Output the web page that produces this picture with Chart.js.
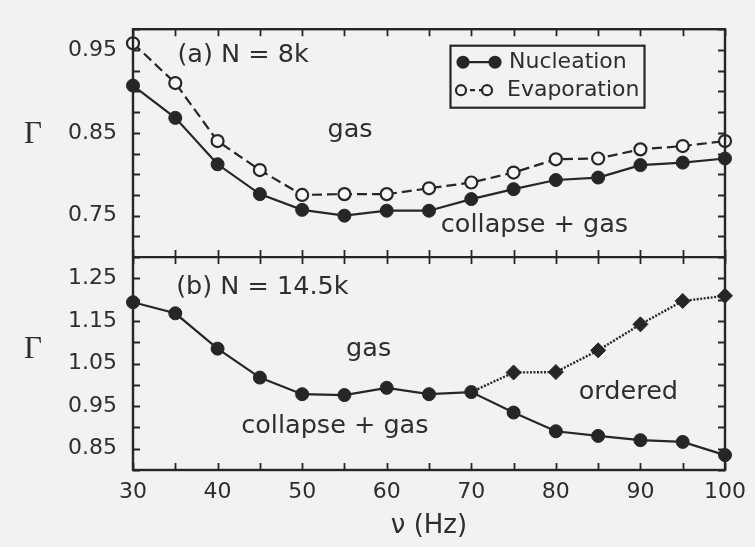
<!DOCTYPE html>
<html><head><meta charset="utf-8">
<script src="https://cdn.jsdelivr.net/npm/chart.js@4.4.0/dist/chart.umd.min.js"></script>
<style>html,body{margin:0;padding:0;background:#f2f2f0;} #wrap{width:755px;height:547px;}</style>
</head><body><div id="wrap"><canvas id="c" width="755" height="547"></canvas></div>
<script>
// ---- data ----
const freqs = [30,35,40,45,50,55,60,65,70,75,80,85,90,95,100];
const nucleationA = [0.907,0.868,0.812,0.776,0.757,0.750,0.756,0.756,0.770,0.782,0.793,0.796,0.811,0.814,0.819];
const evaporationA = [0.958,0.910,0.840,0.805,0.775,0.776,0.776,0.783,0.790,0.802,0.818,0.819,0.830,0.834,0.840];
const nucleationB = [1.194,1.168,1.085,1.017,0.978,0.976,0.993,0.978,0.983,0.935,0.891,0.880,0.870,0.866,0.835];
const orderedFreqs = [70,75,80,85,90,95,100];
const orderedB = [0.983,1.029,1.030,1.081,1.142,1.197,1.209];
const xTickLabels = [30,40,50,60,70,80,90,100];
const yTickLabelsA = [0.75,0.85,0.95];
const yTickLabelsB = [0.85,0.95,1.05,1.15,1.25];

const INK = '#262626';
const TXT = '#2e2e2e';
const BG = '#f2f2f0';
const FONT = 'DejaVu Sans';

const pts = (xs, ys) => xs.map((x, i) => ({x, y: ys[i]}));
const near = (list, v) => list.some(t => Math.abs(t - v) < 1e-6);

const bgPlugin = {
  id: 'bg',
  beforeDraw(chart) {
    const ctx = chart.ctx;
    ctx.save(); ctx.fillStyle = BG; ctx.fillRect(0, 0, chart.width, chart.height); ctx.restore();
  }
};

const framePlugin = {
  id: 'frame',
  afterDatasetsDraw(chart) {
    const ctx = chart.ctx, ca = chart.chartArea;
    const xs = chart.scales.x, ya = chart.scales.yA, yb = chart.scales.yB;
    const TL = 7;
    ctx.save();
    ctx.strokeStyle = INK; ctx.lineWidth = 2.4;
    ctx.strokeRect(ca.left, ca.top, ca.right - ca.left, ca.bottom - ca.top);
    ctx.beginPath(); ctx.moveTo(ca.left, ya.bottom); ctx.lineTo(ca.right, ya.bottom); ctx.stroke();
    ctx.lineWidth = 1.8;
    ctx.beginPath();
    xs.ticks.forEach(t => {
      const px = Math.round(xs.getPixelForValue(t.value)) + 0.5;
      ctx.moveTo(px, ca.top); ctx.lineTo(px, ca.top + TL);
      ctx.moveTo(px, ya.bottom - TL); ctx.lineTo(px, ya.bottom + TL);
      ctx.moveTo(px, ca.bottom); ctx.lineTo(px, ca.bottom - TL);
    });
    [ya, yb].forEach(s => {
      s.ticks.forEach(t => {
        const py = Math.round(s.getPixelForValue(t.value)) + 0.5;
        ctx.moveTo(ca.left, py); ctx.lineTo(ca.left + TL, py);
        ctx.moveTo(ca.right, py); ctx.lineTo(ca.right - TL, py);
      });
    });
    ctx.stroke();
    ctx.restore();
  },
  afterDraw(chart) {
    const ctx = chart.ctx, ca = chart.chartArea;
    const xs = chart.scales.x, ya = chart.scales.yA, yb = chart.scales.yB;
    ctx.save();
    ctx.fillStyle = TXT;
    ctx.textBaseline = 'middle';
    ctx.textAlign = 'left';
    ctx.font = '25.5px "' + FONT + '"';
    const put = (s, xv, sc, yv) => ctx.fillText(s, xs.getPixelForValue(xv), sc.getPixelForValue(yv));
    put('(a) N = 8k', 35.25, ya, 0.943);
    put('gas', 53.0, ya, 0.853);
    put('collapse + gas', 66.4, ya, 0.738);
    put('(b) N = 14.5k', 35.1, yb, 1.229);
    put('gas', 55.2, yb, 1.083);
    put('collapse + gas', 42.8, yb, 0.902);
    put('ordered', 82.7, yb, 0.982);
    // Gamma axis labels
    ctx.font = '31px "Liberation Serif"';
    ctx.textAlign = 'center';
    ctx.fillText('\u0393', ca.left - 100, ya.getPixelForValue(0.848));
    ctx.fillText('\u0393', ca.left - 100, yb.getPixelForValue(1.081));
    // legend
    const lx = ca.right - 275, ly = ca.top + 16;
    ctx.strokeStyle = INK; ctx.lineWidth = 2.2;
    ctx.strokeRect(lx + 0.5, ly + 0.5, 194, 62);
    const r1 = ly + 17, r2 = ly + 45;
    ctx.lineWidth = 2.2;
    ctx.beginPath(); ctx.moveTo(lx + 13, r1); ctx.lineTo(lx + 45, r1); ctx.stroke();
    ctx.fillStyle = INK;
    [lx + 13, lx + 45].forEach(cx => { ctx.beginPath(); ctx.arc(cx, r1, 6.5, 0, Math.PI * 2); ctx.fill(); });
    ctx.setLineDash([5, 4]);
    ctx.beginPath(); ctx.moveTo(lx + 11, r2); ctx.lineTo(lx + 37, r2); ctx.stroke();
    ctx.setLineDash([]);
    [lx + 11, lx + 37].forEach(cx => { ctx.beginPath(); ctx.arc(cx, r2, 5, 0, Math.PI * 2); ctx.fillStyle = '#f7f7f5'; ctx.fill(); ctx.stroke(); });
    ctx.fillStyle = TXT;
    ctx.textAlign = 'left';
    ctx.font = '22px "' + FONT + '"';
    ctx.fillText('Nucleation', lx + 59, r1);
    ctx.fillText('Evaporation', lx + 57, r2);
    ctx.restore();
  }
};

const lineBase = {
  borderColor: INK, borderWidth: 2.2, pointRadius: 6.5, pointHoverRadius: 6.5,
  pointBackgroundColor: INK, pointBorderColor: INK, pointBorderWidth: 1,
  tension: 0, clip: false, fill: false
};

new Chart(document.getElementById('c'), {
  type: 'line',
  data: {
    datasets: [
      Object.assign({}, lineBase, { label: 'Nucleation', data: pts(freqs, nucleationA), yAxisID: 'yA' }),
      Object.assign({}, lineBase, { label: 'Evaporation', data: pts(freqs, evaporationA), yAxisID: 'yA',
        borderDash: [10, 5], pointBackgroundColor: '#f7f7f5', pointBorderWidth: 2.2, pointRadius: 6 }),
      Object.assign({}, lineBase, { label: 'Nucleation (b)', data: pts(freqs, nucleationB), yAxisID: 'yB' }),
      Object.assign({}, lineBase, { label: 'Ordered', data: pts(orderedFreqs, orderedB), yAxisID: 'yB',
        borderDash: [2, 1.5], borderWidth: 2.4, pointStyle: 'rectRot',
        pointRadius: orderedFreqs.map((f, i) => i === 0 ? 0 : 7.5) })
    ]
  },
  options: {
    responsive: false, animation: false, devicePixelRatio: 1,
    layout: { padding: { top: 29, right: 22, bottom: 0, left: 0 } },
    plugins: { legend: { display: false }, tooltip: { enabled: false } },
    scales: {
      x: {
        type: 'linear', position: 'bottom', min: 30, max: 100,
        grid: { display: false, drawTicks: false }, border: { display: false },
        ticks: { stepSize: 5, autoSkip: false, maxRotation: 0, padding: 9, color: TXT,
          font: { family: FONT, size: 22 },
          callback: v => near(xTickLabels, v) ? String(v) : '' },
        title: { display: true, text: '\u03bd (Hz)', color: TXT, font: { family: FONT, size: 26 }, padding: { top: 2, bottom: 5 } },
        afterFit: s => { s.height = 77; }
      },
      yB: {
        type: 'linear', position: 'left', stack: 'panels', stackWeight: 213,
        min: 0.8, max: 1.3,
        grid: { display: false, drawTicks: false }, border: { display: false },
        ticks: { stepSize: 0.05, autoSkip: false, padding: 16, color: TXT, font: { family: FONT, size: 22 },
          callback: v => near(yTickLabelsB, v) ? v.toFixed(2) : '' },
        afterFit: s => { s.width = 133; }
      },
      yA: {
        type: 'linear', position: 'left', stack: 'panels', stackWeight: 228,
        min: 0.7, max: 0.975,
        grid: { display: false, drawTicks: false }, border: { display: false },
        ticks: { stepSize: 0.025, autoSkip: false, padding: 16, color: TXT, font: { family: FONT, size: 22 },
          callback: v => near(yTickLabelsA, v) ? v.toFixed(2) : '' },
        afterFit: s => { s.width = 133; }
      }
    }
  },
  plugins: [bgPlugin, framePlugin]
});
</script>
</body></html>
